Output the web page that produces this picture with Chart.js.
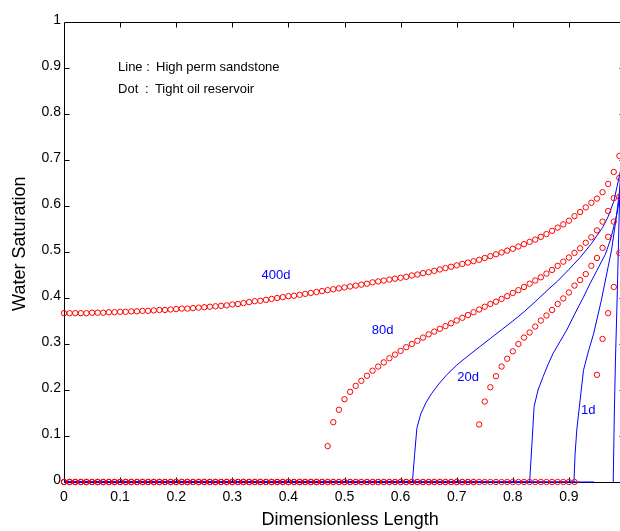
<!DOCTYPE html>
<html>
<head>
<meta charset="utf-8">
<script src="https://cdn.jsdelivr.net/npm/chart.js@4.4.0/dist/chart.umd.min.js"></script>
<style>
  html, body { margin: 0; padding: 0; background: #fff; overflow: hidden; }
  #wrap { width: 632px; height: 531px; }
</style>
</head>
<body>
<div id="wrap"><canvas id="chart" width="632" height="531"></canvas></div>
<script>
// Sampling positions along the core (dimensionless length) for the tight-oil profiles
const xGrid = [
  0.00, 0.01, 0.02, 0.03, 0.04, 0.05, 0.06, 0.07, 0.08, 0.09,
  0.10, 0.11, 0.12, 0.13, 0.14, 0.15, 0.16, 0.17, 0.18, 0.19,
  0.20, 0.21, 0.22, 0.23, 0.24, 0.25, 0.26, 0.27, 0.28, 0.29,
  0.30, 0.31, 0.32, 0.33, 0.34, 0.35, 0.36, 0.37, 0.38, 0.39,
  0.40, 0.41, 0.42, 0.43, 0.44, 0.45, 0.46, 0.47, 0.48, 0.49,
  0.50, 0.51, 0.52, 0.53, 0.54, 0.55, 0.56, 0.57, 0.58, 0.59,
  0.60, 0.61, 0.62, 0.63, 0.64, 0.65, 0.66, 0.67, 0.68, 0.69,
  0.70, 0.71, 0.72, 0.73, 0.74, 0.75, 0.76, 0.77, 0.78, 0.79,
  0.80, 0.81, 0.82, 0.83, 0.84, 0.85, 0.86, 0.87, 0.88, 0.89,
  0.90, 0.91, 0.92, 0.93, 0.94, 0.95, 0.96, 0.97, 0.98, 0.99
];

// Tight oil reservoir: water saturation profiles (dots)
const tight400d = [
  0.367, 0.367, 0.367, 0.367, 0.367, 0.368, 0.368, 0.368, 0.369, 0.369,
  0.370, 0.370, 0.371, 0.371, 0.372, 0.372, 0.373, 0.374, 0.374, 0.375,
  0.376, 0.377, 0.377, 0.378, 0.379, 0.380, 0.381, 0.382, 0.383, 0.384,
  0.386, 0.387, 0.389, 0.391, 0.393, 0.394, 0.396, 0.398, 0.400, 0.402,
  0.404, 0.405, 0.407, 0.409, 0.411, 0.413, 0.415, 0.417, 0.419, 0.421,
  0.423, 0.425, 0.427, 0.429, 0.431, 0.434, 0.436, 0.438, 0.440, 0.442,
  0.444, 0.446, 0.449, 0.451, 0.454, 0.456, 0.459, 0.462, 0.465, 0.468,
  0.471, 0.474, 0.477, 0.480, 0.483, 0.487, 0.491, 0.495, 0.499, 0.503,
  0.507, 0.512, 0.517, 0.522, 0.527, 0.533, 0.539, 0.546, 0.553, 0.560,
  0.568, 0.578, 0.587, 0.597, 0.607, 0.616, 0.630, 0.648, 0.674, 0.709
];
const tight80d = [
  0, 0, 0, 0, 0, 0, 0, 0, 0, 0,
  0, 0, 0, 0, 0, 0, 0, 0, 0, 0,
  0, 0, 0, 0, 0, 0, 0, 0, 0, 0,
  0, 0, 0, 0, 0, 0, 0, 0, 0, 0,
  0, 0, 0, 0, 0, 0, 0, 0.078, 0.130, 0.157,
  0.180, 0.196, 0.209, 0.220, 0.231, 0.242, 0.251, 0.260, 0.269, 0.277,
  0.285, 0.293, 0.300, 0.307, 0.314, 0.321, 0.327, 0.333, 0.339, 0.345,
  0.351, 0.357, 0.363, 0.369, 0.375, 0.381, 0.387, 0.392, 0.398, 0.404,
  0.411, 0.417, 0.424, 0.431, 0.438, 0.445, 0.453, 0.461, 0.470, 0.479,
  0.488, 0.498, 0.508, 0.520, 0.532, 0.547, 0.566, 0.589, 0.617, 0.661
];
const tight20d = [
  0, 0, 0, 0, 0, 0, 0, 0, 0, 0,
  0, 0, 0, 0, 0, 0, 0, 0, 0, 0,
  0, 0, 0, 0, 0, 0, 0, 0, 0, 0,
  0, 0, 0, 0, 0, 0, 0, 0, 0, 0,
  0, 0, 0, 0, 0, 0, 0, 0, 0, 0,
  0, 0, 0, 0, 0, 0, 0, 0, 0, 0,
  0, 0, 0, 0, 0, 0, 0, 0, 0, 0,
  0, 0, 0, 0, 0.125, 0.175, 0.206, 0.230, 0.251, 0.268,
  0.284, 0.300, 0.314, 0.325, 0.338, 0.351, 0.362, 0.374, 0.387, 0.399,
  0.412, 0.427, 0.439, 0.452, 0.470, 0.487, 0.509, 0.533, 0.566, 0.620
];
const tight1d = [
  0, 0, 0, 0, 0, 0, 0, 0, 0, 0,
  0, 0, 0, 0, 0, 0, 0, 0, 0, 0,
  0, 0, 0, 0, 0, 0, 0, 0, 0, 0,
  0, 0, 0, 0, 0, 0, 0, 0, 0, 0,
  0, 0, 0, 0, 0, 0, 0, 0, 0, 0,
  0, 0, 0, 0, 0, 0, 0, 0, 0, 0,
  0, 0, 0, 0, 0, 0, 0, 0, 0, 0,
  0, 0, 0, 0, 0, 0, 0, 0, 0, 0,
  0, 0, 0, 0, 0, 0, 0, 0, 0, 0,
  0, 0, null, null, null, 0.233, 0.311, 0.367, 0.424, 0.498
];

// High perm sandstone: water saturation profiles (lines)
const sand400dX = [0, 0.621, 0.625, 0.629, 0.636, 0.645, 0.655, 0.668, 0.683, 0.70, 0.72, 0.74, 0.76, 0.78, 0.80, 0.82, 0.84, 0.86, 0.88, 0.90, 0.92, 0.94, 0.96, 0.97, 0.98, 0.99, 1.0];
const sand400dY = [0, 0, 0.06, 0.117, 0.148, 0.172, 0.192, 0.213, 0.234, 0.254, 0.274, 0.293, 0.312, 0.331, 0.350, 0.370, 0.392, 0.415, 0.437, 0.462, 0.488, 0.518, 0.553, 0.577, 0.610, 0.665, 0.72];
const sand80dX = [0, 0.830, 0.834, 0.838, 0.845, 0.854, 0.863, 0.872, 0.884, 0.896, 0.914, 0.926, 0.938, 0.950, 0.965, 0.975, 0.985, 0.995, 1.0];
const sand80dY = [0, 0, 0.08, 0.164, 0.200, 0.229, 0.256, 0.280, 0.305, 0.330, 0.374, 0.402, 0.432, 0.460, 0.495, 0.530, 0.580, 0.650, 0.69];
const sand20dX = [0, 0.909, 0.911, 0.914, 0.920, 0.926, 0.935, 0.944, 0.958, 0.970, 0.976, 0.985, 0.993, 1.0];
const sand20dY = [0, 0, 0.06, 0.113, 0.178, 0.243, 0.285, 0.322, 0.396, 0.468, 0.504, 0.580, 0.660, 0.72];
const sand1dX = [0, 0.945, 0.96, 0.979, 0.981, 0.983, 0.986, 0.988, 0.990, 0.992, 0.995];
const sand1dY = [0, 0, null, 0, 0.15, 0.265, 0.40, 0.50, 0.60, 0.68, 0.76];

// Axis tick labels and titles
const xTickLabels = ['0', '0.1', '0.2', '0.3', '0.4', '0.5', '0.6', '0.7', '0.8', '0.9', ''];
const yTickLabels = ['0', '0.1', '0.2', '0.3', '0.4', '0.5', '0.6', '0.7', '0.8', '0.9', '1'];
const xTitle = 'Dimensionless Length';
const yTitle = 'Water Saturation';

// In-plot notes: curve time labels and the line/dot key
const timeLabels = ['400d', '80d', '20d', '1d'];
const timeLabelX = [0.378, 0.568, 0.7205, 0.9346];
const timeLabelY = [0.449, 0.329, 0.2268, 0.1554];
const keyParts = ['Line :', 'High perm sandstone', 'Dot', ':', 'Tight oil reservoir'];
const keyPartX = [0.0963, 0.164, 0.0963, 0.1444, 0.162];
const keyPartY = [0.9015, 0.9015, 0.854, 0.854, 0.854];

const FONT = "'Liberation Sans', Arial, Helvetica, sans-serif";
const RED = '#ff0000';
const BLUE = '#0000ff';

const toPoints = (xs, ys) => xs.map((x, i) => ({ x: x, y: ys[i] }));

function dotSet(label, ys) {
  return {
    label: label,
    data: toPoints(xGrid, ys),
    showLine: false,
    pointStyle: 'circle',
    pointRadius: 2.7,
    pointHoverRadius: 2.7,
    pointBorderWidth: 1,
    pointBorderColor: RED,
    pointBackgroundColor: 'rgba(0,0,0,0)',
    borderColor: RED,
    clip: false
  };
}
function lineSet(label, xs, ys) {
  return {
    label: label,
    data: toPoints(xs, ys),
    showLine: true,
    spanGaps: false,
    borderColor: BLUE,
    borderWidth: 1,
    pointRadius: 0,
    pointHoverRadius: 0,
    tension: 0,
    clip: false
  };
}

// Box around the plot with inward-pointing tick marks on all four sides
const framePlugin = {
  id: 'frame',
  beforeDatasetsDraw(chart) {
    const { ctx, chartArea: a, scales } = chart;
    const xs = scales.x, ys = scales.y;
    const L = Math.round(a.left) + 0.5, R = Math.round(a.right) - 0.5;
    const T = Math.round(a.top) + 0.5, B = Math.round(a.bottom) + 0.5;
    const len = 5;
    ctx.save();
    ctx.strokeStyle = '#000';
    ctx.lineWidth = 1;
    ctx.beginPath();
    ctx.rect(L, T, R - L, B - T);
    xs.ticks.forEach((t, i) => {
      if (i === 0 || i === xs.ticks.length - 1) return;
      const px = Math.round(xs.getPixelForValue(t.value)) + 0.5;
      ctx.moveTo(px, B); ctx.lineTo(px, B - len);
      ctx.moveTo(px, T); ctx.lineTo(px, T + len);
    });
    ys.ticks.forEach((t, i) => {
      if (i === 0 || i === ys.ticks.length - 1) return;
      const py = Math.round(ys.getPixelForValue(t.value)) + 0.5;
      ctx.moveTo(L, py); ctx.lineTo(L + len, py);
      ctx.moveTo(R, py); ctx.lineTo(R - len, py);
    });
    ctx.stroke();
    ctx.restore();
  }
};

// Text: curve labels and key inside the plot, axis titles outside it
const notesPlugin = {
  id: 'notes',
  afterDatasetsDraw(chart) {
    const { ctx, scales, chartArea: a } = chart;
    const xs = scales.x, ys = scales.y;
    ctx.save();
    ctx.textBaseline = 'middle';
    ctx.font = '13px ' + FONT;
    ctx.fillStyle = BLUE;
    ctx.textAlign = 'center';
    timeLabels.forEach((txt, i) => {
      ctx.fillText(txt, xs.getPixelForValue(timeLabelX[i]), ys.getPixelForValue(timeLabelY[i]));
    });
    ctx.fillStyle = '#000';
    ctx.textAlign = 'left';
    keyParts.forEach((txt, i) => {
      ctx.fillText(txt, xs.getPixelForValue(keyPartX[i]), ys.getPixelForValue(keyPartY[i]));
    });

    ctx.font = '18px ' + FONT;
    ctx.textAlign = 'center';
    ctx.fillText(xTitle, xs.getPixelForValue(0.51), a.bottom + 38);
    ctx.translate(20, ys.getPixelForValue(0.518));
    ctx.rotate(-Math.PI / 2);
    ctx.fillText(yTitle, 0, 0);
    ctx.restore();
  }
};

new Chart(document.getElementById('chart'), {
  type: 'scatter',
  data: {
    datasets: [
      dotSet('400d', tight400d),
      dotSet('80d', tight80d),
      dotSet('20d', tight20d),
      dotSet('1d', tight1d),
      lineSet('400d', sand400dX, sand400dY),
      lineSet('80d', sand80dX, sand80dY),
      lineSet('20d', sand20dX, sand20dY),
      lineSet('1d', sand1dX, sand1dY)
    ]
  },
  options: {
    responsive: false,
    animation: false,
    events: [],
    layout: { padding: { left: 0, right: 0, top: 22, bottom: 0 } },
    plugins: { legend: { display: false }, tooltip: { enabled: false } },
    scales: {
      x: {
        type: 'linear',
        min: 0, max: 1,
        grid: { display: false, drawTicks: false },
        border: { display: false },
        ticks: {
          stepSize: 0.1,
          autoSkip: false,
          maxRotation: 0,
          padding: 7,
          color: '#000',
          font: { family: FONT, size: 14 },
          callback: (v, i) => xTickLabels[i]
        },
        afterFit: (s) => { s.height = 49; }
      },
      y: {
        type: 'linear',
        min: 0, max: 1,
        grid: { display: false, drawTicks: false },
        border: { display: false },
        ticks: {
          stepSize: 0.1,
          autoSkip: false,
          padding: 3,
          labelOffset: -2,
          color: '#000',
          font: { family: FONT, size: 14 },
          callback: (v, i) => yTickLabels[i]
        },
        afterFit: (s) => { s.width = 64; }
      }
    }
  },
  plugins: [framePlugin, notesPlugin]
});
</script>
</body>
</html>
